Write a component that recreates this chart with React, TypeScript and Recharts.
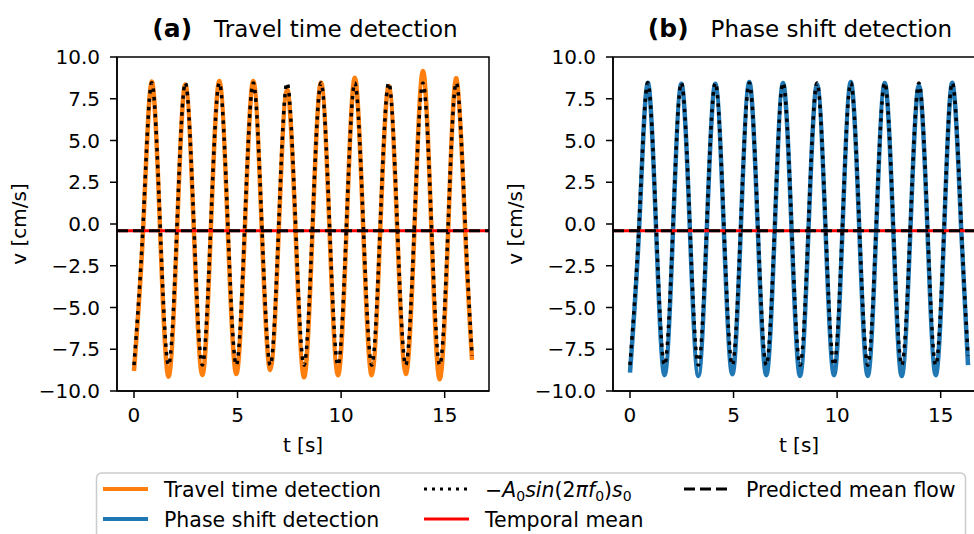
import React from 'react';
import { LineChart, Line, XAxis, YAxis, ReferenceLine, ReferenceArea } from 'recharts';

// key times (s): start, zero crossings, peaks and troughs, end
const tKey = [
  0, 0.44, 0.85, 1.26, 1.67, 2.08, 2.48, 2.89, 3.30, 3.71, 4.12, 4.53, 4.94, 5.35,
  5.76, 6.17, 6.58, 6.99, 7.39, 7.80, 8.21, 8.62, 9.03, 9.44, 9.85, 10.26, 10.66,
  11.07, 11.48, 11.89, 12.30, 12.71, 13.12, 13.54, 13.95, 14.36, 14.76, 15.17, 15.57,
  15.99, 16.32,
];

// v [cm/s] at those times
const vTravel = [
  -8.8, -0.35, 8.52, -0.35, -9.14, -0.35, 8.36, -0.35, -9.04, -0.35, 8.56, -0.35,
  -8.98, -0.35, 8.56, -0.35, -8.74, -0.35, 8.07, -0.35, -9.18, -0.35, 8.48, -0.35,
  -9.06, -0.35, 8.76, -0.35, -9.06, -0.35, 8.26, -0.35, -8.98, -0.35, 9.16, -0.35,
  -9.3, -0.35, 8.72, -0.35, -8.14,
];
const vPhase = [
  -8.9, -0.3, 8.45, -0.3, -9.05, -0.3, 8.4, -0.3, -9.1, -0.3, 8.4, -0.3, -9.0, -0.3,
  8.5, -0.3, -9.05, -0.3, 8.45, -0.3, -9.1, -0.3, 8.35, -0.3, -9.05, -0.3, 8.5, -0.3,
  -9.1, -0.3, 8.45, -0.3, -9.1, -0.3, 8.3, -0.3, -9.05, -0.3, 8.45, -0.3, -8.45,
];
const vModel = [
  -8.45, 0, 8.45, 0, -8.45, 0, 8.45, 0, -8.45, 0, 8.45, 0, -8.45, 0, 8.45, 0, -8.45,
  0, 8.45, 0, -8.45, 0, 8.45, 0, -8.45, 0, 8.45, 0, -8.45, 0, 8.45, 0, -8.45, 0, 8.45,
  0, -8.45, 0, 8.45, 0, -7.9,
];

const temporalMean = -0.4;
const predictedMean = -0.4;

const xTicks = [0, 5, 10, 15];
const yTicks = [-10, -7.5, -5, -2.5, 0, 2.5, 5, 7.5, 10];
const xDomain = [-0.82, 17.14];
const yDomain = [-10, 10];

const toPoints = (vs: number[]) => tKey.map((t, i) => ({ t, v: vs[i] }));

const fmtY = (v: number) => v.toFixed(1).replace('-', '\u2212');
const font = 'DejaVu Sans';

function Panel({ left, series, color }: { left: number; series: number[]; color: string }) {
  return (
    <div style={{ position: 'absolute', left, top: 0 }}>
      <LineChart width={500} height={460} margin={{ top: 57, right: 11, left: 0, bottom: 9 }}>
        <XAxis
          type="number"
          dataKey="t"
          domain={xDomain}
          ticks={xTicks}
          allowDataOverflow
          height={60}
          tickSize={7}
          tickMargin={10}
          axisLine={{ stroke: '#000', strokeWidth: 1.5 }}
          tickLine={{ stroke: '#000', strokeWidth: 1.5 }}
          tick={{ fill: '#000', fontSize: 20, fontFamily: font }}
        />
        <YAxis
          type="number"
          dataKey="v"
          domain={yDomain}
          ticks={yTicks}
          interval={0}
          width={117}
          tickSize={7}
          tickMargin={10}
          tickFormatter={fmtY}
          axisLine={{ stroke: '#000', strokeWidth: 1.5 }}
          tickLine={{ stroke: '#000', strokeWidth: 1.5 }}
          tick={{ fill: '#000', fontSize: 20, fontFamily: font }}
        />
        <ReferenceArea x1={xDomain[0]} x2={xDomain[1]} y1={-10} y2={10} fill="none" stroke="#000" strokeWidth={1.5} />
        <Line data={toPoints(series)} dataKey="v" type="natural" stroke={color} strokeWidth={4.5}
          dot={false} activeDot={false} isAnimationActive={false} />
        <Line data={toPoints(vModel)} dataKey="v" type="natural" stroke="#000" strokeWidth={3.5}
          strokeDasharray="3.5 5" dot={false} activeDot={false} isAnimationActive={false} />
        <ReferenceLine y={temporalMean} stroke="#ff0000" strokeWidth={3} />
        <ReferenceLine y={predictedMean} stroke="#000" strokeWidth={3} strokeDasharray="11 5" />
      </LineChart>
    </div>
  );
}

export default function App() {
  return (
    <div style={{ position: 'fixed', left: 0, top: 0, width: 974, height: 534, overflow: 'hidden', background: '#fff' }}>
      <Panel left={0} series={vTravel} color="#ff7f0e" />
      <Panel left={496} series={vPhase} color="#1f77b4" />
      <svg width={974} height={534} style={{ position: 'absolute', left: 0, top: 0 }} fontFamily={font}>
        {/* titles */}
        <text x={305} y={37} textAnchor="middle" fontSize={23}>
          <tspan fontWeight="bold" fontSize={25}>(a)</tspan>
          <tspan dx={22}>Travel time detection</tspan>
        </text>
        <text x={800} y={37} textAnchor="middle" fontSize={23}>
          <tspan fontWeight="bold" fontSize={25}>(b)</tspan>
          <tspan dx={22}>Phase shift detection</tspan>
        </text>
        {/* axis labels */}
        <text x={303} y={452} textAnchor="middle" fontSize={20}>t [s]</text>
        <text x={799} y={452} textAnchor="middle" fontSize={20}>t [s]</text>
        <text x={26} y={224} textAnchor="middle" fontSize={20} transform="rotate(-90 26 224)">v [cm/s]</text>
        <text x={522} y={224} textAnchor="middle" fontSize={20} transform="rotate(-90 522 224)">v [cm/s]</text>
        {/* legend */}
        <rect x={96.5} y={473} width={869} height={80} rx={5} fill="#fff" stroke="#cccccc" strokeWidth={1.5} />
        <line x1={103} x2={148} y1={489} y2={489} stroke="#ff7f0e" strokeWidth={4} />
        <text x={164} y={496.5} fontSize={20.5}>Travel time detection</text>
        <line x1={103} x2={148} y1={519} y2={519} stroke="#1f77b4" strokeWidth={4} />
        <text x={164} y={526.5} fontSize={20.5}>Phase shift detection</text>
        <line x1={424} x2={469} y1={489} y2={489} stroke="#000" strokeWidth={3} strokeDasharray="3 5" />
        <text x={485} y={496.5} fontSize={20.5}>
          <tspan>{'\u2212'}</tspan>
          <tspan fontStyle="italic">A</tspan>
          <tspan fontSize={14} dy={4}>0</tspan>
          <tspan fontStyle="italic" dy={-4}>sin</tspan>
          <tspan>(2</tspan>
          <tspan fontStyle="italic">{'\u03c0'}f</tspan>
          <tspan fontSize={14} dy={4}>0</tspan>
          <tspan dy={-4}>)</tspan>
          <tspan fontStyle="italic">s</tspan>
          <tspan fontSize={14} dy={4}>0</tspan>
        </text>
        <line x1={424} x2={469} y1={519} y2={519} stroke="#ff0000" strokeWidth={3} />
        <text x={485} y={526.5} fontSize={20.5}>Temporal mean</text>
        <line x1={684} x2={729} y1={489} y2={489} stroke="#000" strokeWidth={3} strokeDasharray="11 5" />
        <text x={746} y={496.5} fontSize={20.5}>Predicted mean flow</text>
      </svg>
    </div>
  );
}
